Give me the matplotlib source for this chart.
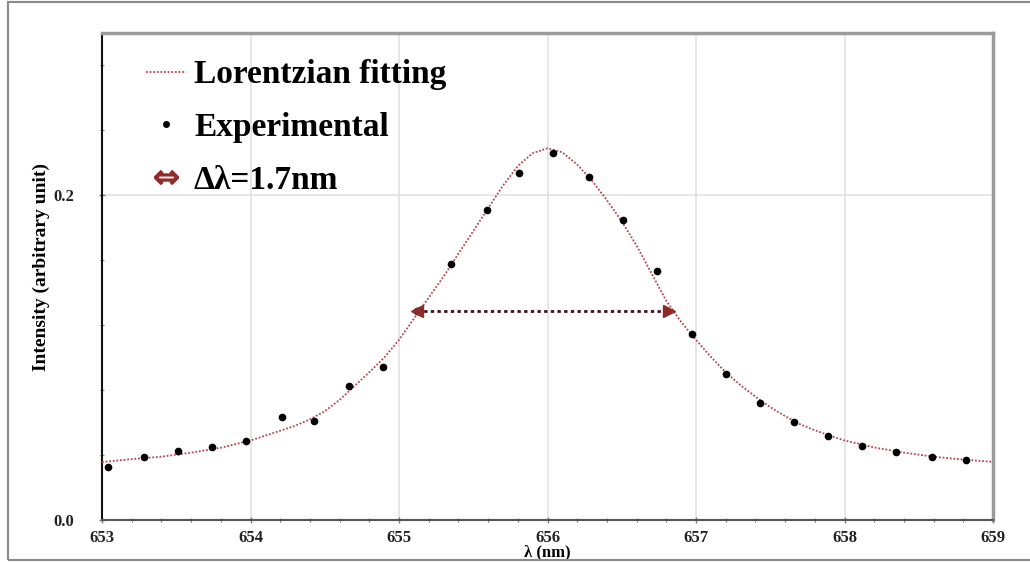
import matplotlib
matplotlib.use("Agg")
import matplotlib.pyplot as plt
from matplotlib.lines import Line2D
from matplotlib.patches import Rectangle
from matplotlib.ticker import MultipleLocator, FixedLocator

# ---- data ----
exp_x = [653.04, 653.28, 653.51, 653.74, 653.97, 654.21, 654.43, 654.66, 654.89,
         655.12, 655.35, 655.59, 655.81, 656.04, 656.28, 656.51, 656.74, 656.97,
         657.20, 657.43, 657.66, 657.89, 658.12, 658.35, 658.59, 658.82]
exp_y = [0.0326, 0.0388, 0.0425, 0.0449, 0.0486, 0.0634, 0.0609, 0.0825, 0.0942,
         0.129, 0.1575, 0.191, 0.214, 0.2258, 0.211, 0.1846, 0.1532, 0.1145,
         0.0898, 0.072, 0.0603, 0.0517, 0.0455, 0.0418, 0.0388, 0.0369]

fit_x = [653.0, 653.2, 653.4, 653.6, 653.8, 654.0, 654.1, 654.2, 654.3, 654.4,
         654.5, 654.6, 654.7, 654.8, 654.9, 655.0, 655.1, 655.2, 655.3, 655.4,
         655.5, 655.6, 655.7, 655.8, 655.9, 656.0, 656.1, 656.2, 656.3, 656.4,
         656.5, 656.6, 656.7, 656.8, 656.9, 657.0, 657.1, 657.2, 657.3, 657.4,
         657.5, 657.6, 657.7, 657.8, 657.9, 658.0, 658.2, 658.4, 658.6, 658.8, 659.0]
fit_y = [0.0357, 0.0375, 0.0390, 0.0415, 0.0445, 0.0490, 0.0520, 0.0550, 0.0580, 0.0620,
         0.0670, 0.0740, 0.0825, 0.0910, 0.1000, 0.1110, 0.1240, 0.1370, 0.1500, 0.1640,
         0.1780, 0.1920, 0.2060, 0.2180, 0.2260, 0.2290, 0.2265, 0.2190, 0.2090, 0.1970,
         0.1840, 0.1690, 0.1520, 0.1350, 0.1220, 0.1110, 0.1005, 0.0910, 0.0830, 0.0760,
         0.0695, 0.0640, 0.0590, 0.0553, 0.0520, 0.0490, 0.0447, 0.0415, 0.0390, 0.0372, 0.0358]

fwhm_x = [655.12, 656.82]
fwhm_y = [0.129, 0.129]

x_ticks = [653, 654, 655, 656, 657, 658, 659]
y_ticks = [0.0, 0.2]
y_tick_labels = ["0.0", "0.2"]

legend_labels = ["Lorentzian fitting", "Experimental", "\u0394\u03bb=1.7nm"]

# ---- styling ----
serif = ["Liberation Serif", "DejaVu Serif"]
fit_color = "#b5474a"
arrow_color = "#8e2a2a"

fig = plt.figure(figsize=(10.30, 5.62), dpi=100)
ax = fig.add_axes([102 / 1030, 1 - 520 / 562, (993 - 102) / 1030, (520 - 33) / 562])

ax.plot(fit_x, fit_y, linestyle=(0, (1, 1)), color=fit_color, lw=1.3, zorder=3)
ax.plot(exp_x, exp_y, linestyle="none", marker="o", ms=4.5, color="black", zorder=4)

# FWHM arrow
ax.plot(fwhm_x, fwhm_y, linestyle=(0, (1.2, 1.2)), color="#3a1414", lw=2.0, zorder=5)
ax.plot(fwhm_x[:1], fwhm_y[:1], linestyle="none", marker="<", ms=9, color=arrow_color,
        mec=arrow_color, zorder=6)
ax.plot(fwhm_x[1:], fwhm_y[1:], linestyle="none", marker=">", ms=9, color=arrow_color,
        mec=arrow_color, zorder=6)

ax.set_xlim(653, 659)
ax.set_ylim(0, 0.3)
ax.xaxis.set_major_locator(FixedLocator(x_ticks))
ax.xaxis.set_minor_locator(MultipleLocator(0.2))
ax.yaxis.set_major_locator(FixedLocator(y_ticks))
ax.yaxis.set_minor_locator(MultipleLocator(0.04))
ax.set_yticklabels(y_tick_labels)

ax.grid(True, which="major", color="#e2e2e2", lw=1.2)
ax.set_axisbelow(True)

for lab in ax.get_xticklabels() + ax.get_yticklabels():
    lab.set_fontfamily(serif)
    lab.set_fontweight("bold")
    lab.set_fontsize(12)
    lab.set_color("#222222")

ax.tick_params(axis="both", which="both", direction="inout", color="#777777")
ax.tick_params(axis="both", which="major", length=4, width=1)
ax.tick_params(axis="both", which="minor", length=3, width=0.8)
ax.tick_params(axis="x", which="major", pad=5)
ax.tick_params(axis="y", which="major", pad=18)

ax.spines["left"].set_color("#111111")
ax.spines["left"].set_linewidth(1.5)
ax.spines["bottom"].set_color("#555555")
ax.spines["bottom"].set_linewidth(1.5)
for s in ("top", "right"):
    ax.spines[s].set_color("#9a9a9a")
    ax.spines[s].set_linewidth(2.5)

ax.set_xlabel("\u03bb (nm)", fontfamily=serif, fontweight="bold", fontsize=12,
              labelpad=-1)
ax.set_ylabel("Intensity (arbitrary unit)", fontfamily=serif, fontweight="bold",
              fontsize=14)
ax.yaxis.set_label_coords(-0.058, 0.52)

handles = [
    Line2D([], [], linestyle=(0, (1, 1)), color=fit_color, lw=1.3),
    Line2D([], [], linestyle="none", marker="o", ms=4, color="black"),
    Line2D([], [], linestyle="none", marker=r"$\Leftrightarrow$", ms=17, color=arrow_color),
]
leg = ax.legend(handles, legend_labels, loc="upper left", frameon=False,
                prop={"family": serif, "weight": "bold", "size": 24},
                handlelength=1.2, handletextpad=0.25, labelspacing=0.65,
                borderaxespad=0.0, bbox_to_anchor=(0.034, 0.973))

# outer border of the picture
fig.patches.append(Rectangle((8 / 1030, 2 / 562), 1.2, 558 / 562, transform=fig.transFigure,
                             fill=False, edgecolor="#8a8a8a", lw=1.5))

fig.savefig("out.png", dpi=100)
